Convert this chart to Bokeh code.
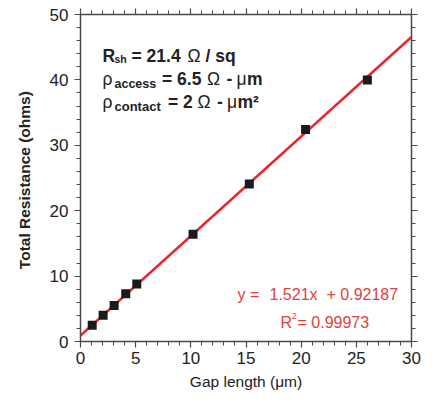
from bokeh.plotting import figure
from bokeh.models import Range1d, SingleIntervalTicker, LinearAxis, Label
from bokeh.embed import file_html
from bokeh.resources import INLINE

# ---- data ----
gap_um = [1.06, 2.05, 3.05, 4.1, 5.1, 10.2, 15.3, 20.4, 26.0]
resistance = [2.5, 4.0, 5.5, 7.3, 8.8, 16.4, 24.1, 32.4, 40.0]
fit_slope = 1.521
fit_intercept = 0.92187
fit_x = [0, 30]
fit_y = [fit_slope * v + fit_intercept for v in fit_x]

FONT = "Liberation Sans"
AX = "#4a4a4a"
TXT = "#222222"
RED = "#e8262b"
RED_TXT = "#e0413f"

p = figure(width=424, height=392, output_backend="svg", toolbar_location=None,
           x_range=Range1d(0, 30), y_range=Range1d(0, 50),
           min_border_left=80, min_border_right=13, min_border_top=14, min_border_bottom=46)
p.outline_line_color = None
p.xgrid.visible = False
p.ygrid.visible = False
p.background_fill_color = "white"

p.xaxis.ticker = SingleIntervalTicker(interval=5, num_minor_ticks=5)
p.yaxis.ticker = SingleIntervalTicker(interval=10, num_minor_ticks=5)


def style(ax, labels=True):
    ax.axis_line_color = AX
    ax.axis_line_width = 1.5
    ax.major_tick_line_color = AX
    ax.minor_tick_line_color = AX
    ax.major_tick_line_width = 1.2
    ax.minor_tick_line_width = 1.0
    ax.major_tick_out = 6
    ax.major_tick_in = 0
    ax.minor_tick_out = 4
    ax.minor_tick_in = 0
    ax.major_label_text_font = FONT
    if labels:
        ax.major_label_text_color = TXT
        ax.major_label_text_font_size = "17px"
    else:
        ax.major_label_text_color = None
        ax.major_label_text_font_size = "1px"
        ax.major_label_standoff = 0


for ax in p.xaxis:
    style(ax)
    ax.major_label_standoff = 4
    ax.axis_label = "Gap length (\u03bcm)"
    ax.axis_label_text_font = FONT
    ax.axis_label_text_font_style = "normal"
    ax.axis_label_text_font_size = "15.5px"
    ax.axis_label_text_color = TXT
    ax.axis_label_standoff = 6
for ax in p.yaxis:
    style(ax)
    ax.major_label_standoff = 6
    ax.axis_label = "Total Resistance  (ohms)"
    ax.axis_label_text_font = FONT
    ax.axis_label_text_font_style = "bold"
    ax.axis_label_text_font_size = "15.5px"
    ax.axis_label_text_color = TXT
    ax.axis_label_standoff = 14

top = LinearAxis(ticker=SingleIntervalTicker(interval=5, num_minor_ticks=5))
style(top, labels=False)
p.add_layout(top, "above")
right = LinearAxis(ticker=SingleIntervalTicker(interval=10, num_minor_ticks=5))
style(right, labels=False)
p.add_layout(right, "right")

p.line(fit_x, fit_y, line_color=RED, line_width=2.5)
p.scatter(gap_um, resistance, marker="square", size=9, fill_color="#1a1a1a", line_color=None)

# ---- annotations (pixel placement relative to the plot frame origin) ----
FX, FY = 80, 345.7


def put(text, px, base, size, bold=False, color=TXT):
    p.add_layout(Label(x=0, y=0, x_units="data", y_units="data",
                       x_offset=px - FX, y_offset=FY - base, text=text,
                       text_font=FONT, text_font_size=f"{size}px",
                       text_font_style="bold" if bold else "normal",
                       text_color=color, text_align="left",
                       text_baseline="alphabetic"))


S = 17.5
# row 1
put("R", 102, 60, S, True)
put("sh", 114, 63, 10.5, True)
put("= 21.4", 131, 60, S, True)
put("\u03a9", 187, 60, S)
put("/ sq", 205, 60, S, True)
# row 2
put("\u03c1", 102, 83, S)
put("access", 114, 88, 12.5, True)
put("= 6.5", 161.5, 83, S, True)
put("\u03a9", 206.5, 83, S)
put("-", 226, 83, S, True)
put("\u03bc", 236, 83, S)
put("m", 246.5, 83, S, True)
# row 3
put("\u03c1", 102, 106, S)
put("contact", 114, 111, 13, True)
put("= 2", 167.5, 106, S, True)
put("\u03a9", 197, 106, S)
put("-", 216.5, 106, S, True)
put("\u03bc", 226.5, 106, S)
put("m\u00b2", 237, 106, S, True)

# fit equation
put("y =", 237, 299, 16, color=RED_TXT)
put("1.521x", 269, 299, 16, color=RED_TXT)
put("+ 0.92187", 326, 299, 16, color=RED_TXT)
put("R", 280, 327, 16, color=RED_TXT)
put("2", 291.5, 320, 8.5, color=RED_TXT)
put("= 0.99973", 297, 327, 16, color=RED_TXT)

open("out.html", "w").write(file_html(p, INLINE))
